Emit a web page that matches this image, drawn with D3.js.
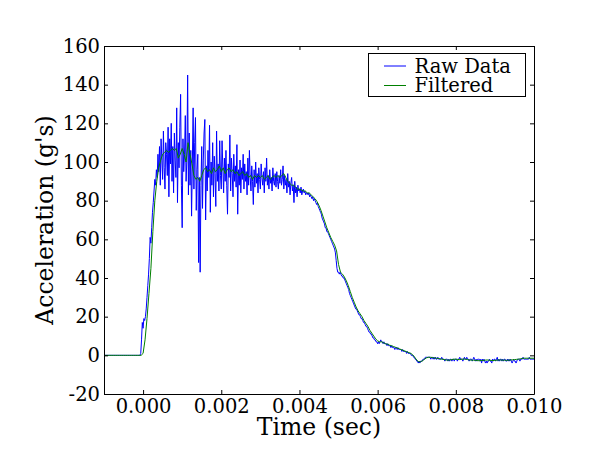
<!DOCTYPE html>
<html>
<head>
<meta charset="utf-8">
<script src="https://cdnjs.cloudflare.com/ajax/libs/d3/7.8.5/d3.min.js"></script>
<style>
    body { margin: 0; background: #fff; }
</style>
</head>
<body>
<div id="chart"></div>
<script>
'use strict';

// sampling of the two series (seconds)
var rawStart = -0.001
var rawStep = 0.00002
var filtStart = -0.001
var filtStep = 0.00005

// raw accelerometer samples (g's)
var rawData = [
    0, 0, 0, 0, 0, 0, 0, 0, 0, 0,
    0, 0, 0, 0, 0, 0, 0, 0, 0, 0,
    0, 0, 0, 0, 0, 0, 0, 0, 0, 0,
    0, 0, 0, 0, 0, 0, 0, 0, 0, 0,
    0, 0, 0, 0, 0, 0, 0, 1, 8, 17,
    14, 19, 18, 20, 24, 30, 36, 42, 50, 61,
    58, 66, 74, 79, 85, 91, 88, 96, 92, 104,
    95, 108, 88, 112, 101, 91, 116, 97, 86, 110,
    104, 93, 118, 82, 112, 99, 120, 90, 108, 84,
    115, 101, 92, 128, 79, 110, 97, 118, 135, 88,
    66, 112, 95, 104, 124, 90, 101, 145, 83, 115,
    88, 106, 72, 99, 128, 86, 110, 123, 75, 96,
    104, 48, 92, 43, 88, 108, 76, 101, 115, 122,
    70, 98, 85, 106, 92, 119, 74, 100, 88, 110,
    82, 103, 94, 77, 116, 90, 99, 85, 111, 93,
    86, 111, 97, 84, 102, 90, 106, 88, 73, 99,
    92, 114, 85, 102, 94, 82, 104, 90, 98, 87,
    109, 73, 96, 88, 101, 84, 97, 91, 104, 86,
    99, 90, 95, 83, 102, 88, 106, 92, 85, 98,
    90, 78, 96, 87, 100, 89, 94, 84, 97, 91,
    86, 99, 92, 88, 95, 84, 97, 90, 102, 88,
    93, 86, 96, 89, 92, 85, 97, 90, 88, 94,
    87, 95, 90, 86, 93, 89, 96, 88, 91, 98,
    86, 93, 88, 91, 84, 94, 87, 90, 83, 89,
    92, 85, 88, 79, 90, 84, 87, 82, 88, 85,
    86, 84, 87, 83, 85, 86, 84, 85, 83, 84,
    84, 83, 84, 82, 83, 82, 81, 82, 80, 81,
    80, 79, 78, 79, 77, 76, 75, 74, 73, 71,
    70, 69, 68, 66, 66, 64, 64, 63, 62, 61,
    60, 59, 58, 57, 56, 55, 53, 49, 45, 43,
    43, 42, 43, 42, 41, 41, 40, 40, 39, 38,
    37, 36, 35, 34, 32, 31, 30, 29, 28, 27,
    26, 25, 24, 24, 23, 22, 21, 21, 20, 19,
    19, 18, 17, 17, 16, 15, 15, 14, 13, 12,
    12, 11, 11, 10, 9, 9, 8, 8, 7, 7,
    6, 7, 6, 7, 8, 7, 7, 6, 7, 6,
    6, 6, 5, 6, 5, 5, 5, 4, 5, 4,
    4, 4, 3, 4, 4, 3, 4, 3, 3, 3,
    3, 2, 3, 2, 2, 2, 2, 1, 2, 1,
    1, 1, 1, 0, 0, 0, -1, -1, -2, -2,
    -3, -3, -4, -3, -4, -3, -3, -3, -2, -2,
    -2, -1, -1, -1, -1, -1, -1, -1, -2, -1,
    -1, -2, -1, -2, -1, -2, -2, -1, -2, -2,
    -2, -2, -1, -2, -2, -2, -3, -2, -2, -2,
    -3, -2, -3, -2, -2, -3, -2, -2, -3, -2,
    -2, -2, -3, -2, -2, -1, -2, -2, -2, -3,
    -2, -1, -2, -2, -1, -2, -2, -3, -2, -2,
    -2, -3, -2, -1, -2, -3, -2, -3, -2, -2,
    -2, -3, -2, -4, -2, -3, -2, -3, -4, -3,
    -4, -3, -3, -2, -3, -3, -4, -2, -3, -2,
    -2, -3, -2, -1, -3, -2, -3, -2, -2, -3,
    -2, -3, -2, -2, -3, -3, -2, -3, -2, -3,
    -2, -3, -4, -3, -2, -3, -3, -4, -3, -2,
    -2, -2, -3, -2, -2, -2, -1, -2, -2, -2,
    -2, -2, -2, -2, -1, -2, -2, -2, -2, -2, -2
]

// filtered signal (g's)
var filteredData = [
    0, 0, 0, 0, 0, 0, 0, 0, 0, 0,
    0, 0, 0, 0, 0, 0, 0, 0, 0, 0,
    1, 8, 19, 32, 45, 64, 80, 90, 97, 101,
    104, 105, 106, 105, 106, 107, 106, 107, 102, 104,
    107, 104, 100, 110, 104, 99, 93, 91, 92, 90,
    93, 96, 97, 95, 96, 94, 97, 95, 96, 98,
    95, 97, 94, 96, 97, 95, 96, 94, 95, 93,
    94, 95, 93, 94, 92, 93, 91, 93, 92, 93,
    92, 93, 91, 92, 93, 91, 92, 93, 92, 93,
    92, 93, 94, 92, 90, 89, 88, 88, 87, 86,
    86, 85.5, 85, 85, 84, 84, 83, 82, 81, 79.5,
    77.5, 75, 72, 69, 66, 63.5, 61, 59, 57, 54,
    47, 43, 42, 40.5, 38.5, 36, 33, 30, 27.5, 25,
    23, 21.5, 20, 18, 16.5, 15, 13, 11.5, 10, 8.5,
    7.5, 7, 7, 6.5, 6, 5.8, 5.3, 5, 4.6, 4.2,
    3.8, 3.4, 3, 2.6, 2.2, 1.8, 1.4, 1, 0.2, -1,
    -2.5, -3.3, -3.3, -2.8, -2, -1.3, -1, -1, -1.2, -1.3,
    -1.5, -1.6, -1.8, -2, -2.2, -2.4, -2.5, -2.4, -2.2, -2,
    -2, -2.1, -2.2, -2, -1.9, -2, -2.2, -2.4, -2.5, -2.5,
    -2.6, -2.7, -2.8, -2.7, -2.6, -2.5, -2.4, -2.5, -2.6, -2.7,
    -2.6, -2.5, -2.4, -2.4, -2.5, -2.5, -2.6, -2.5, -2.4, -2.3,
    -2.2, -2.1, -2, -1.8, -1.6, -1.5, -1.5, -1.5, -1.5, -1.5, -1.5
]

var xDomain = [-0.001, 0.010]
var yDomain = [-20, 160]
var xTicks = [0, 0.002, 0.004, 0.006, 0.008, 0.010]
var yTicks = [-20, 0, 20, 40, 60, 80, 100, 120, 140, 160]
var seriesNames = ['Raw Data', 'Filtered']
var seriesColors = ['#0000ff', '#008000']

var width = 593
var height = 463
var padding = { left: 104, right: 59, top: 46, bottom: 69 }
var font = 'DejaVu Serif, serif'

var svg = d3.select('#chart').append('svg')
    .attr('width', width)
    .attr('height', height)

svg.append('rect').attr('width', width).attr('height', height).style('fill', '#fff')

var xScale = d3.scaleLinear().domain(xDomain).range([padding.left, width - padding.right])
var yScale = d3.scaleLinear().domain(yDomain).range([height - padding.bottom, padding.top])

svg.append('clipPath').attr('id', 'plotClip')
    .append('rect')
    .attr('x', padding.left)
    .attr('y', padding.top)
    .attr('width', width - padding.left - padding.right)
    .attr('height', height - padding.top - padding.bottom)

var rawLine = d3.line()
    .x(function(d, i) { return xScale(rawStart + i * rawStep) })
    .y(function(d) { return yScale(d) })

var filtLine = d3.line()
    .x(function(d, i) { return xScale(filtStart + i * filtStep) })
    .y(function(d) { return yScale(d) })

var plot = svg.append('g').attr('clip-path', 'url(#plotClip)')

plot.append('path')
    .datum(rawData)
    .attr('d', rawLine)
    .style('fill', 'none')
    .style('stroke', seriesColors[0])
    .style('stroke-width', 1)

plot.append('path')
    .datum(filteredData)
    .attr('d', filtLine)
    .style('fill', 'none')
    .style('stroke', seriesColors[1])
    .style('stroke-width', 1)

// axes, ticks pointing inward on all four sides
var xAxis = d3.axisBottom(xScale).tickValues(xTicks).tickSizeInner(-4).tickSizeOuter(0).tickPadding(5)
    .tickFormat(d3.format('.3f'))
var yAxis = d3.axisLeft(yScale).tickValues(yTicks).tickSizeInner(-4).tickSizeOuter(0).tickPadding(4)
    .tickFormat(function(d) { return String(d) })

svg.append('g')
    .attr('class', 'x axis')
    .attr('transform', 'translate(0,' + (height - padding.bottom) + ')')
    .call(xAxis)

svg.append('g')
    .attr('class', 'y axis')
    .attr('transform', 'translate(' + padding.left + ',0)')
    .call(yAxis)

svg.append('g')
    .attr('transform', 'translate(0,' + padding.top + ')')
    .call(d3.axisTop(xScale).tickValues(xTicks).tickSizeInner(-4).tickSizeOuter(0).tickFormat(''))

svg.append('g')
    .attr('transform', 'translate(' + (width - padding.right) + ',0)')
    .call(d3.axisRight(yScale).tickValues(yTicks).tickSizeInner(-4).tickSizeOuter(0).tickFormat(''))

svg.selectAll('.domain, .tick line').style('stroke', '#000').style('stroke-width', 1)
svg.selectAll('.axis text')
    .style('font-family', font)
    .style('font-size', '19.5px')
    .style('fill', '#000')

// axis titles
svg.append('text')
    .attr('x', (padding.left + width - padding.right) / 2)
    .attr('y', 435)
    .attr('text-anchor', 'middle')
    .style('font-family', font)
    .style('font-size', '23.5px')
    .text('Time (sec)')

svg.append('text')
    .attr('transform', 'translate(53,' + ((padding.top + height - padding.bottom) / 2) + ') rotate(-90)')
    .attr('text-anchor', 'middle')
    .style('font-family', font)
    .style('font-size', '23.5px')
    .text("Acceleration (g's)")

// legend
var legend = svg.append('g').attr('transform', 'translate(368.5,53.5)')
legend.append('rect')
    .attr('width', 157)
    .attr('height', 43)
    .style('fill', '#fff')
    .style('stroke', '#000')
    .style('stroke-width', 1)

seriesNames.forEach(function(name, i) {
    var yy = 12.5 + i * 19.5
    legend.append('line')
        .attr('x1', 15.5).attr('x2', 37.5)
        .attr('y1', yy).attr('y2', yy)
        .style('stroke', seriesColors[i])
        .style('stroke-width', 1)
    legend.append('text')
        .attr('x', 46)
        .attr('y', yy + 6.5)
        .style('font-family', font)
        .style('font-size', '19.5px')
        .text(name)
})
</script>
</body>
</html>
